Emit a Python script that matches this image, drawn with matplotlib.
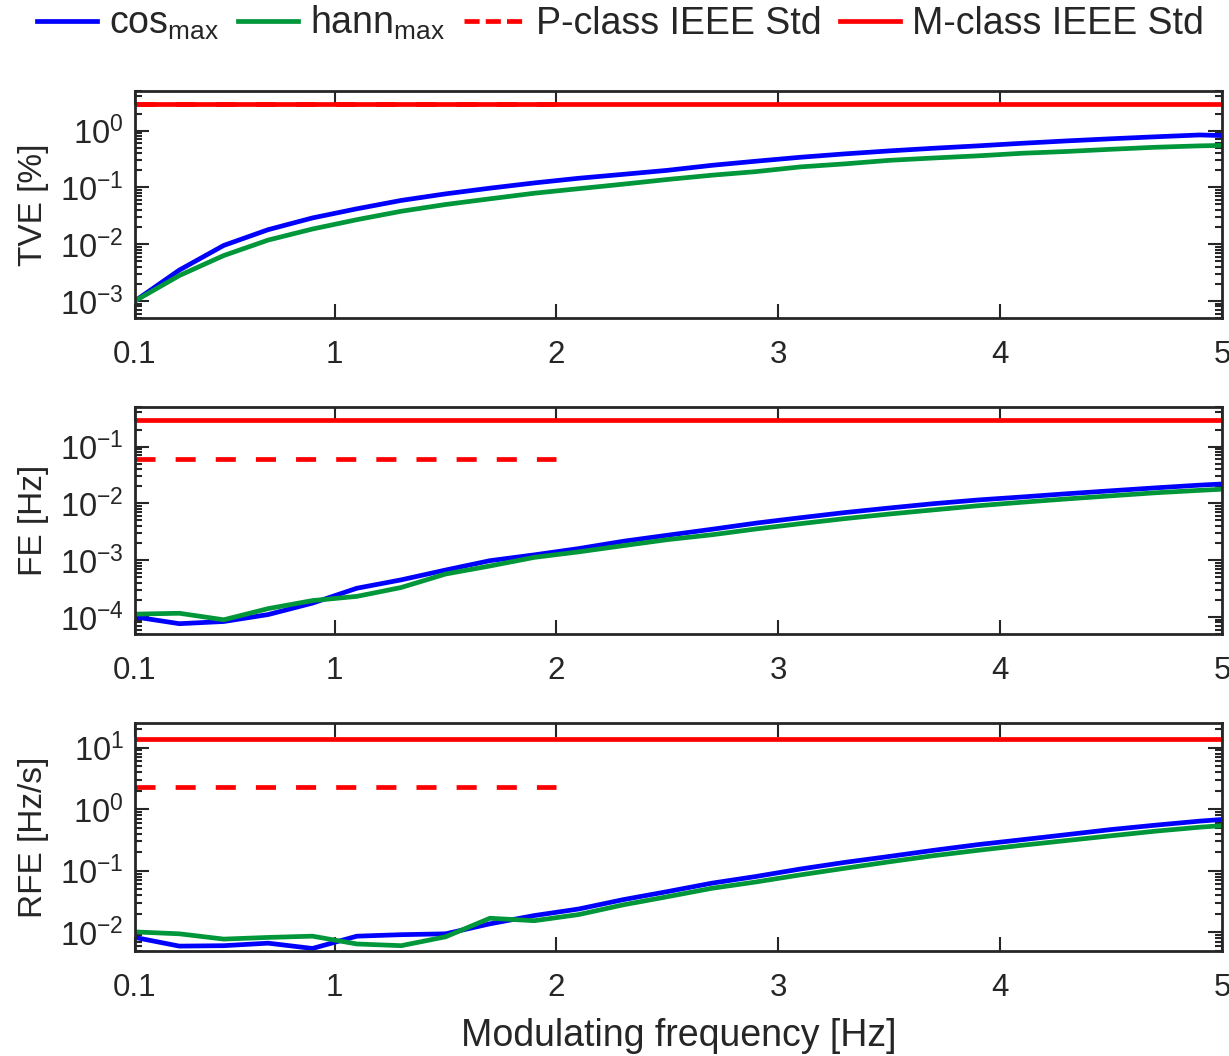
import matplotlib
matplotlib.use("Agg")
import matplotlib.pyplot as plt
from matplotlib.lines import Line2D
from matplotlib.ticker import LogLocator, NullFormatter, FixedLocator

plt.rcParams['font.family'] = ['Liberation Sans', 'DejaVu Sans']
plt.rcParams['mathtext.fontset'] = 'custom'
plt.rcParams['mathtext.rm'] = 'Liberation Sans'
plt.rcParams['mathtext.it'] = 'Liberation Sans:italic'
plt.rcParams['mathtext.default'] = 'regular'

# ---- data ----
freq = [0.1, 0.3, 0.5, 0.7, 0.9, 1.1, 1.3, 1.5, 1.7, 1.9, 2.1, 2.3, 2.5,
        2.7, 2.9, 3.1, 3.3, 3.5, 3.7, 3.9, 4.1, 4.3, 4.5, 4.7, 4.9, 5.0]

tve_cos = [1.0e-3, 3.5e-3, 9.5e-3, 0.018, 0.029, 0.042, 0.059, 0.077, 0.097, 0.12,
           0.145, 0.17, 0.20, 0.245, 0.29, 0.34, 0.39, 0.44, 0.49, 0.54,
           0.60, 0.66, 0.72, 0.78, 0.84, 0.82]
tve_hann = [1.0e-3, 2.8e-3, 6.3e-3, 0.0118, 0.0185, 0.027, 0.038, 0.050, 0.063, 0.079,
            0.095, 0.114, 0.138, 0.164, 0.19, 0.23, 0.26, 0.30, 0.33, 0.36,
            0.40, 0.43, 0.47, 0.51, 0.54, 0.55]

fe_cos = [1.0e-4, 7.6e-5, 8.3e-5, 1.1e-4, 1.75e-4, 3.2e-4, 4.5e-4, 6.7e-4, 9.8e-4, 1.24e-3,
          1.6e-3, 2.15e-3, 2.75e-3, 3.5e-3, 4.5e-3, 5.6e-3, 6.9e-3, 8.3e-3, 9.9e-3, 0.0115,
          0.013, 0.0148, 0.0167, 0.0188, 0.021, 0.022]
fe_hann = [1.12e-4, 1.16e-4, 8.9e-5, 1.4e-4, 1.94e-4, 2.3e-4, 3.3e-4, 5.7e-4, 7.9e-4, 1.12e-3,
           1.4e-3, 1.8e-3, 2.3e-3, 2.8e-3, 3.55e-3, 4.4e-3, 5.4e-3, 6.5e-3, 7.7e-3, 9.1e-3,
           0.0105, 0.012, 0.0136, 0.0154, 0.017, 0.0178]

rfe_cos = [8.3e-3, 6.0e-3, 6.1e-3, 6.7e-3, 5.5e-3, 8.7e-3, 9.2e-3, 9.5e-3, 0.0138, 0.0188,
           0.024, 0.034, 0.046, 0.063, 0.081, 0.107, 0.137, 0.171, 0.215, 0.266,
           0.32, 0.386, 0.467, 0.55, 0.64, 0.68]
rfe_hann = [0.0102, 9.5e-3, 7.8e-3, 8.3e-3, 8.7e-3, 6.5e-3, 6.1e-3, 8.5e-3, 0.017, 0.0155,
            0.0195, 0.028, 0.038, 0.052, 0.066, 0.086, 0.11, 0.14, 0.176, 0.215,
            0.26, 0.31, 0.37, 0.44, 0.51, 0.54]

# IEEE Std limits
p_range = [0.1, 2.0]
m_range = [0.1, 5.0]
tve_limits = [3.0, 3.0]      # P, M
fe_limits = [0.06, 0.3]
rfe_limits = [2.3, 14.0]

ylabels = ['TVE [%]', 'FE [Hz]', 'RFE [Hz/s]']
ylims = [(5e-4, 5), (5e-5, 0.5), (5e-3, 25)]
xticks = [0.1, 1, 2, 3, 4, 5]
xticklabels = ['0.1', '1', '2', '3', '4', '5']
legend_labels = [r'cos$_{max}$', r'hann$_{max}$', 'P-class IEEE Std', 'M-class IEEE Std']

# ---- style ----
BLUE = '#0000ff'
GREEN = '#00963a'
RED = '#ff0000'
AXC = '#262626'
LW = 3.4
DASH_PT = 14.45
DASH = (DASH_PT / LW, DASH_PT / LW)

W, H = 1229, 1056
fig = plt.figure(figsize=(W / 100, H / 100), dpi=100)

boxes = [(91, 318), (407, 634), (723, 951)]
left_px, right_px = 135, 1222

series = [(tve_cos, tve_hann, tve_limits),
          (fe_cos, fe_hann, fe_limits),
          (rfe_cos, rfe_hann, rfe_limits)]

for i, (top, bot) in enumerate(boxes):
    ax = fig.add_axes([left_px / W, 1 - bot / H, (right_px - left_px) / W, (bot - top) / H])
    c, h, lim = series[i]
    ax.plot(freq, c, color=BLUE, lw=LW, solid_joinstyle='round')
    ax.plot(freq, h, color=GREEN, lw=LW, solid_joinstyle='round')
    ax.plot(m_range, [lim[1], lim[1]], color=RED, lw=LW)
    ax.plot(p_range, [lim[0], lim[0]], color=RED, lw=LW, dashes=DASH, dash_capstyle='butt')
    ax.set_yscale('log')
    ax.set_xlim(0.1, 5)
    ax.set_ylim(*ylims[i])
    ax.xaxis.set_major_locator(FixedLocator(xticks))
    ax.set_xticklabels(xticklabels)
    ax.yaxis.set_major_locator(LogLocator(base=10, numticks=20))
    ax.yaxis.set_minor_locator(LogLocator(base=10, subs=[2, 3, 4, 5, 6, 7, 8, 9], numticks=20))
    ax.yaxis.set_minor_formatter(NullFormatter())
    ax.tick_params(axis='both', which='both', direction='in', top=True, right=True,
                   colors=AXC, labelcolor=AXC, width=1.5)
    ax.tick_params(axis='x', labelsize=22.5, pad=16)
    ax.tick_params(axis='y', labelsize=23.5, pad=8)
    ax.tick_params(axis='both', which='major', length=10)
    ax.tick_params(axis='both', which='minor', length=5)
    for s in ax.spines.values():
        s.set_color(AXC)
        s.set_linewidth(2.0)
    ax.set_ylabel(ylabels[i], fontsize=24, color=AXC, labelpad=8)
    if i == 2:
        ax.set_xlabel('Modulating frequency [Hz]', fontsize=27, color=AXC, labelpad=11)

handles = [Line2D([], [], color=BLUE, lw=LW),
           Line2D([], [], color=GREEN, lw=LW),
           Line2D([], [], color=RED, lw=LW, dashes=(3.2, 1.3), dash_capstyle='butt'),
           Line2D([], [], color=RED, lw=LW)]
fig.legend(handles, legend_labels, loc='upper center', bbox_to_anchor=(0.505, 1.028),
           ncol=4, frameon=False, fontsize=27, handlelength=1.6, handletextpad=0.32,
           columnspacing=0.5, labelcolor=AXC)

fig.savefig('out.png', dpi=100)
